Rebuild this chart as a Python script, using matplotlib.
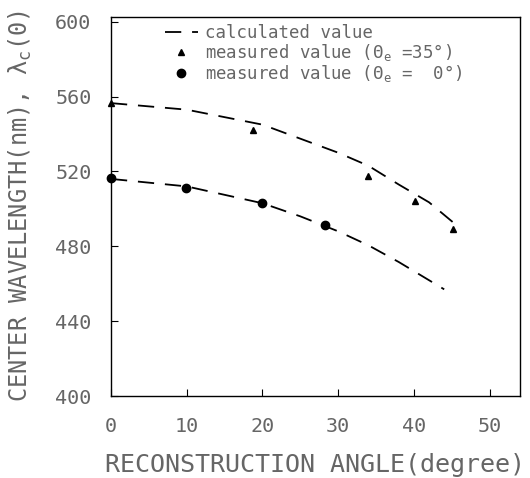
import numpy as np
import matplotlib
matplotlib.use("Agg")
import matplotlib.pyplot as plt

plt.rcParams['font.family'] = ['DejaVu Sans Mono']
plt.rcParams['mathtext.fontset'] = 'custom'
plt.rcParams['mathtext.rm'] = 'DejaVu Sans Mono'
plt.rcParams['mathtext.it'] = 'DejaVu Sans Mono'

# calculated curves
calc_x_35 = [0, 10, 20, 26, 30, 34, 38, 42, 46]
calc_y_35 = [556.5, 553, 545, 536, 530, 523, 513, 503.5, 490]
calc_x_0 = [0, 10, 20, 25, 30, 34, 38, 44]
calc_y_0 = [516, 512, 503, 496, 488, 480.5, 471.6, 457]

# measured values
meas_x_35 = [0, 18.7, 34.0, 40.1, 45.1]
meas_y_35 = [556.6, 541.9, 517.5, 504.2, 489.4]
meas_x_0 = [0, 9.9, 20.0, 28.3]
meas_y_0 = [516.6, 511.3, 502.9, 491.2]

xticks = [0, 10, 20, 30, 40, 50]
yticks = [400, 440, 480, 520, 560, 600]

txt = '#666666'

fig = plt.figure(figsize=(5.3, 4.78), dpi=100)
ax = fig.add_axes([0.2094, 0.1715, 0.7716, 0.7929])

ax.plot(calc_x_35, calc_y_35, '--', color='k', lw=1.3, dashes=(9, 6), label='calculated value')
ax.plot(calc_x_0, calc_y_0, '--', color='k', lw=1.3, dashes=(9, 6))
ax.plot(meas_x_35, meas_y_35, '^', color='k', ms=4.5, ls='none', clip_on=False,
        label=r'measured value ($\Theta_e$ =35°)')
ax.plot(meas_x_0, meas_y_0, 'o', color='k', ms=6, ls='none', clip_on=False,
        label=r'measured value ($\Theta_e$ =  0°)')

ax.set_xlim(0, 54)
ax.set_ylim(400, 602.5)
ax.set_xticks(xticks)
ax.set_yticks(yticks)
ax.tick_params(direction='in', length=5, width=0.8, labelsize=14.5, labelcolor=txt)
ax.tick_params(axis='x', pad=15)
ax.tick_params(axis='y', pad=14)
for s in ax.spines.values():
    s.set_linewidth(1.0)

ax.set_xlabel('RECONSTRUCTION ANGLE(degree)', fontsize=18, color=txt, labelpad=12)
ax.set_ylabel(r'CENTER WAVELENGTH(nm), $\lambda_c$(0)', fontsize=17, color=txt, labelpad=15)

leg = ax.legend(loc='upper left', bbox_to_anchor=(0.115, 1.0), frameon=False, fontsize=12.5,
                handlelength=1.9, handletextpad=0.4, labelspacing=0.0, borderaxespad=0.0)
for t in leg.get_texts():
    t.set_color(txt)

plt.savefig('out.png', dpi=100)
